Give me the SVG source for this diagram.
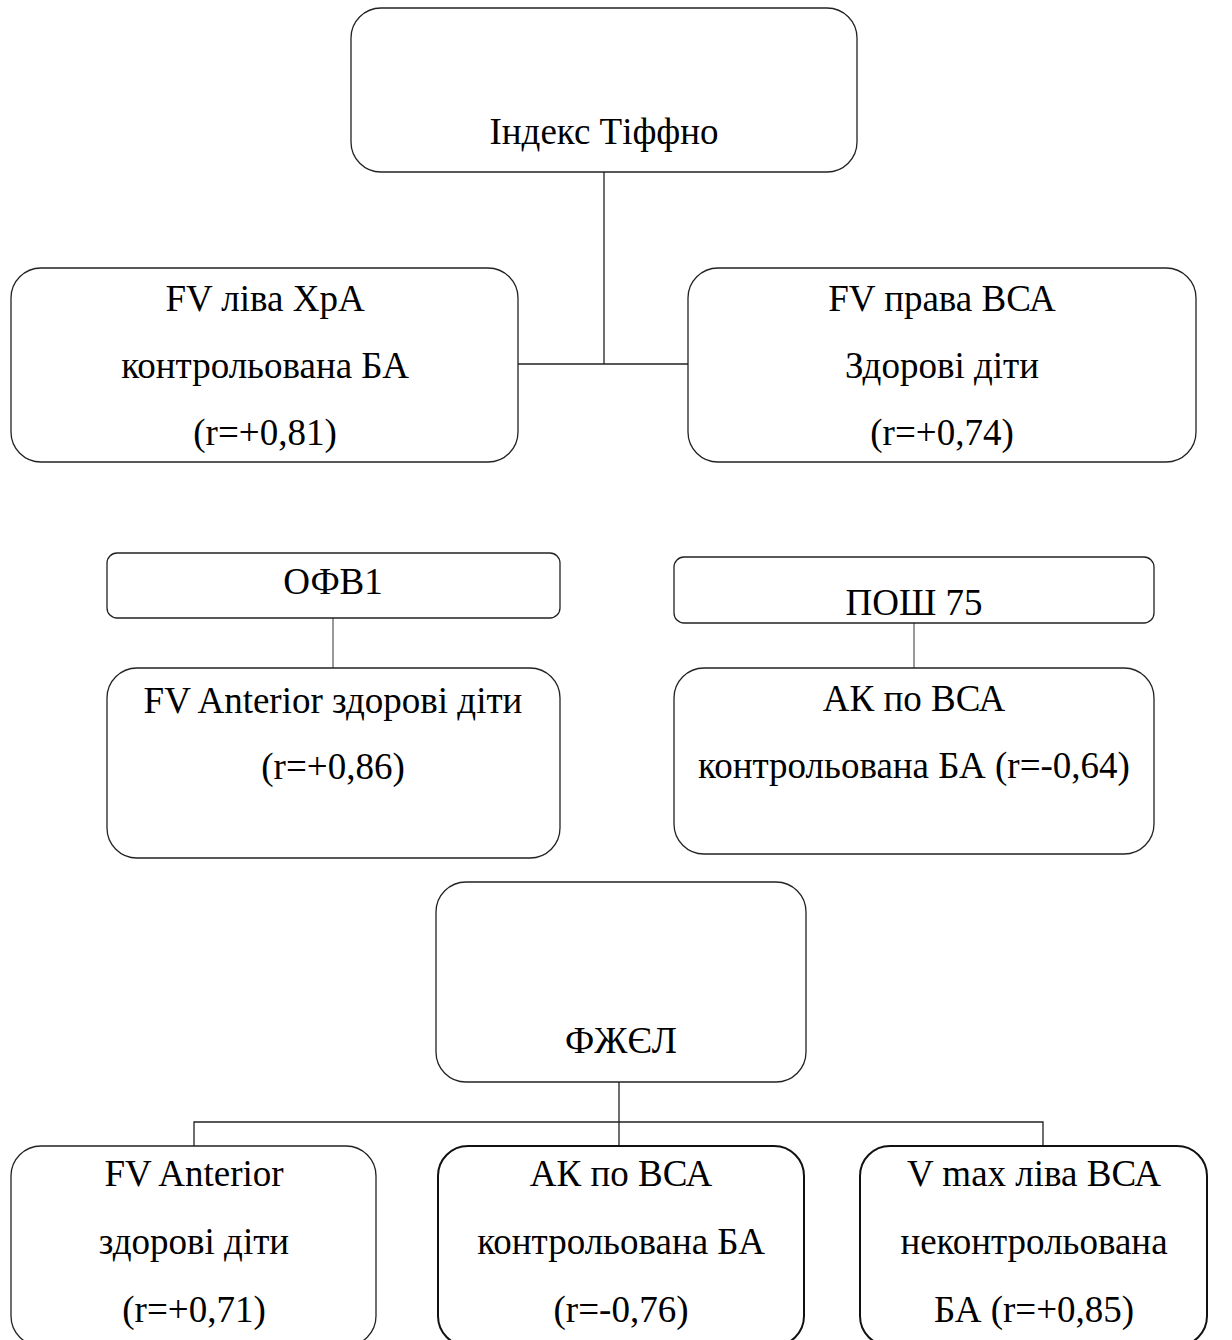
<svg xmlns="http://www.w3.org/2000/svg" width="1232" height="1340" viewBox="0 0 1232 1340">
<style>
.b{fill:#fff;stroke:#222;stroke-width:1.3}
.bt{fill:#fff;stroke:#111;stroke-width:2}
.c{fill:none;stroke:#222;stroke-width:1.3}
.cg{fill:none;stroke:#555;stroke-width:1.2}
text{font-family:"Liberation Serif","Times New Roman",serif;font-size:37px;fill:#000;text-anchor:middle}
</style>
<rect width="1232" height="1340" fill="#fff"/>
<g id="connectors">
<path class="c" d="M604 172V364M518 364H688"/>
<path class="cg" d="M333 618V668"/>
<path class="cg" d="M914 623V668"/>
<path class="c" d="M619 1082V1146M194 1146V1122H1043V1146"/>
</g>
<g id="n-tiffno"><rect class="b" x="351" y="8" width="506" height="164" rx="30"/><text x="604" y="144">Індекс Тіффно</text></g>
<g id="n-left"><rect class="b" x="11" y="268" width="507" height="194" rx="30"/><text x="265" y="311">FV ліва ХрА</text><text x="265" y="378">контрольована БА</text><text x="265" y="445">(r=+0,81)</text></g>
<g id="n-right"><rect class="b" x="688" y="268" width="508" height="194" rx="30"/><text x="942" y="311">FV права ВСА</text><text x="942" y="378">Здорові діти</text><text x="942" y="445">(r=+0,74)</text></g>
<g id="n-ofv1"><rect class="b" x="107" y="553" width="453" height="65" rx="10"/><text x="333" y="594">ОФВ1</text></g>
<g id="n-fvant1"><rect class="b" x="107" y="668" width="453" height="190" rx="30"/><text x="333" y="713">FV Anterior здорові діти</text><text x="333" y="779">(r=+0,86)</text></g>
<g id="n-posh"><rect class="b" x="674" y="557" width="480" height="66" rx="10"/><text x="914" y="615">ПОШ 75</text></g>
<g id="n-ak1"><rect class="b" x="674" y="668" width="480" height="186" rx="30"/><text x="914" y="711">АК по ВСА</text><text x="914" y="778">контрольована БА (r=-0,64)</text></g>
<g id="n-fzhel"><rect class="b" x="436" y="882" width="370" height="200" rx="30"/><text x="621" y="1053">ФЖЄЛ</text></g>
<g id="n-fvant2"><rect class="b" x="11" y="1146" width="365" height="200" rx="30"/><text x="194" y="1186">FV Anterior</text><text x="194" y="1254">здорові діти</text><text x="194" y="1322">(r=+0,71)</text></g>
<g id="n-ak2"><rect class="bt" x="438" y="1146" width="366" height="200" rx="30"/><text x="621" y="1186">АК по ВСА</text><text x="621" y="1254">контрольована БА</text><text x="621" y="1322">(r=-0,76)</text></g>
<g id="n-vmax"><rect class="bt" x="860" y="1146" width="347" height="200" rx="30"/><text x="1034" y="1186">V max ліва ВСА</text><text x="1034" y="1254">неконтрольована</text><text x="1034" y="1322">БА (r=+0,85)</text></g>
</svg>
